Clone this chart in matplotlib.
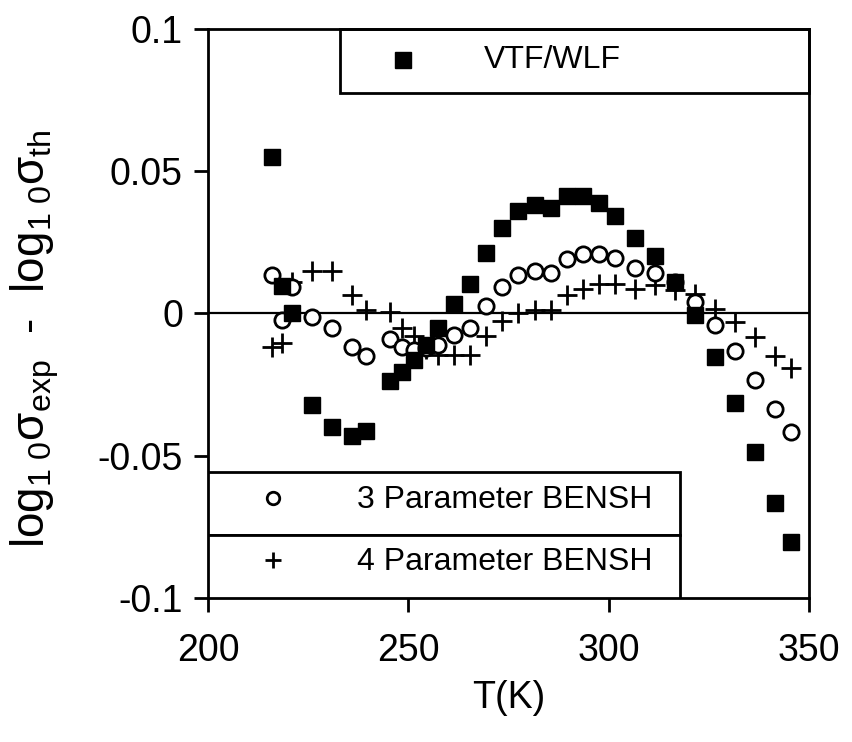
import numpy as np
import matplotlib
matplotlib.use("Agg")
import matplotlib.pyplot as plt
from matplotlib.patches import Rectangle

plt.rcParams['font.family'] = ['Liberation Sans', 'DejaVu Sans']
plt.rcParams['mathtext.fontset'] = 'custom'
plt.rcParams['mathtext.rm'] = 'Liberation Sans'
plt.rcParams['mathtext.it'] = 'Liberation Sans'
plt.rcParams['axes.unicode_minus'] = False

# temperaturas (K)
temperatura = [216, 218.5, 221, 226, 231, 236, 239.5, 245.5, 248.5, 251.5,
               254.5, 257.5, 261.5, 265.5, 269.5, 273.5, 277.5, 281.5, 285.5,
               289.5, 293.5, 297.5, 301.5, 306.5, 311.5, 316.5, 321.5, 326.5,
               331.5, 336.5, 341.5, 345.5]

# residuos log10(sigma_exp) - log10(sigma_th)
vtf_wlf = [0.055, 0.0095, 0.000, -0.032, -0.040, -0.043, -0.0414, -0.0239,
           -0.0204, -0.0163, -0.0111, -0.0052, 0.0033, 0.0105, 0.0213, 0.0302,
           0.0359, 0.0382, 0.0371, 0.0414, 0.0414, 0.0387, 0.0344, 0.0266,
           0.0202, 0.0110, -0.0006, -0.0154, -0.0315, -0.0487, -0.0667, -0.0804]

bensh3 = [0.0134, -0.0022, 0.0093, -0.0013, -0.0050, -0.0119, -0.0149, -0.0091,
          -0.0117, -0.0128, -0.0122, -0.0111, -0.0076, -0.0052, 0.0025, 0.0093,
          0.0134, 0.0149, 0.0142, 0.0192, 0.0210, 0.0210, 0.0196, 0.0161,
          0.0141, 0.0110, 0.0041, -0.0041, -0.0131, -0.0233, -0.0336, -0.0417]

bensh4 = [-0.0117, -0.0105, 0.0110, 0.0151, 0.0151, 0.0064, 0.0012, 0.0006,
          -0.0052, -0.0080, -0.0125, -0.0145, -0.0145, -0.0145, -0.0078, -0.0026,
          0.0002, 0.0014, 0.0012, 0.0064, 0.0087, 0.0102, 0.0102, 0.0087,
          0.0100, 0.0081, 0.0070, 0.0017, -0.0029, -0.0084, -0.0149, -0.0192]

ticks_x = [200, 250, 300, 350]
ticks_y = [0.1, 0.05, 0, -0.05, -0.1]
rotulos_y = ["0.1", "0.05", "0", "-0.05", "-0.1"]

figura = plt.figure(figsize=(8.53, 7.42), dpi=100)
eixo = figura.add_axes([0.2438, 0.1941, 0.7046, 0.7668])

eixo.axhline(0, color='black', lw=1.6, zorder=1)

eixo.plot(temperatura, bensh4, linestyle='none', marker='+', markersize=14,
          mew=2, color='black', zorder=2)
eixo.plot(temperatura, bensh3, linestyle='none', marker='o', markersize=11,
          mew=2, mfc='white', mec='black', zorder=3)
eixo.plot(temperatura, vtf_wlf, linestyle='none', marker='s', markersize=12,
          color='black', zorder=4)

eixo.set_xlim(200, 350)
eixo.set_ylim(-0.1, 0.1)
eixo.set_xticks(ticks_x)
eixo.set_yticks(ticks_y)
eixo.set_yticklabels(rotulos_y)
eixo.tick_params(direction='out', length=10, width=2, labelsize=27, pad=8)
eixo.tick_params(axis='x', pad=15)
for lado in eixo.spines.values():
    lado.set_linewidth(2)

eixo.set_xlabel('T(K)', fontsize=27)
eixo.xaxis.set_label_coords(0.5, -0.145)
eixo.set_ylabel('log$_{1\\ 0}$σ$_{exp}$  -  log$_{1\\ 0}$σ$_{th}$', fontsize=33)
eixo.yaxis.set_label_coords(-0.245, 0.455)

# caixa de legenda superior
eixo.add_patch(Rectangle((0.2196, 0.8875), 0.7804, 0.1125, transform=eixo.transAxes,
                         fill=False, lw=2, color='black', zorder=5, clip_on=False))
eixo.plot([0.3245], [0.9455], marker='s', markersize=11, color='black',
          transform=eixo.transAxes, clip_on=False)
eixo.text(0.5724, 0.9455, 'VTF/WLF', transform=eixo.transAxes, fontsize=23,
          ha='center', va='center')

# caixas de legenda inferiores
eixo.add_patch(Rectangle((0, 0.1107), 0.7854, 0.1107, transform=eixo.transAxes,
                         facecolor='white', edgecolor='black', lw=2, zorder=5))
eixo.add_patch(Rectangle((0, 0), 0.7854, 0.1107, transform=eixo.transAxes,
                         facecolor='white', edgecolor='black', lw=2, zorder=5))
eixo.plot([0.108], [0.1757], marker='o', markersize=9, mew=2, mfc='white',
          mec='black', transform=eixo.transAxes, zorder=6)
eixo.plot([0.108], [0.0668], marker='+', markersize=12, mew=2, color='black',
          transform=eixo.transAxes, zorder=6)
eixo.text(0.248, 0.172, '3 Parameter BENSH', transform=eixo.transAxes,
          fontsize=23, ha='left', va='center', zorder=6)
eixo.text(0.248, 0.0633, '4 Parameter BENSH', transform=eixo.transAxes,
          fontsize=23, ha='left', va='center', zorder=6)

figura.savefig('out.png', dpi=100)
